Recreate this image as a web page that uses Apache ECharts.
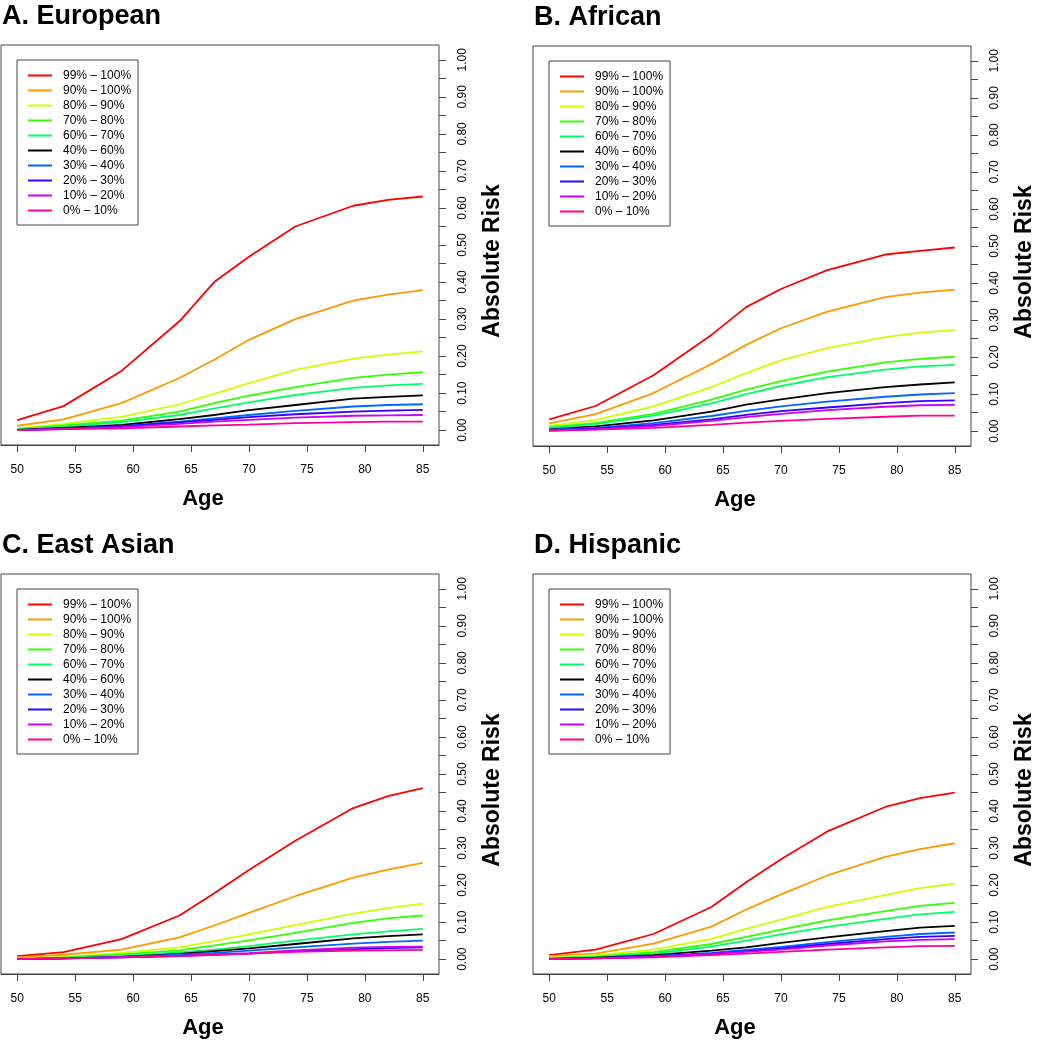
<!DOCTYPE html>
<html>
<head>
<meta charset="utf-8">
<title>Absolute risk by PRS percentile</title>
<script src="https://cdn.jsdelivr.net/npm/echarts@6/dist/echarts.min.js"></script>
<style>
  html, body { margin: 0; padding: 0; background: #fff; }
  #chart { width: 1037px; height: 1050px; }
</style>
</head>
<body>
<div id="chart"></div>
<script>
const ages = [50, 54, 59, 64, 67, 70, 74, 79, 82, 85]

const bands = ['99% – 100%', '90% – 100%', '80% – 90%', '70% – 80%', '60% – 70%',
  '40% – 60%', '30% – 40%', '20% – 30%', '10% – 20%', '0% – 10%']

const xTicks = [50, 55, 60, 65, 70, 75, 80, 85]
const yTicks = [0, 0.05, 0.1, 0.15, 0.2, 0.25, 0.3, 0.35, 0.4, 0.45, 0.5,
  0.55, 0.6, 0.65, 0.7, 0.75, 0.8, 0.85, 0.9, 0.95, 1]
const yLabels = [0, 0.1, 0.2, 0.3, 0.4, 0.5, 0.6, 0.7, 0.8, 0.9, 1]

// one row per band, same order as bands
const european = [
  [0.027, 0.065, 0.160, 0.294, 0.400, 0.468, 0.550, 0.606, 0.622, 0.631],
  [0.012, 0.029, 0.073, 0.141, 0.190, 0.244, 0.300, 0.350, 0.366, 0.378],
  [0.005, 0.017, 0.036, 0.070, 0.098, 0.127, 0.163, 0.193, 0.204, 0.213],
  [0.003, 0.013, 0.026, 0.050, 0.073, 0.093, 0.116, 0.141, 0.150, 0.157],
  [0.002, 0.010, 0.022, 0.041, 0.059, 0.075, 0.095, 0.114, 0.121, 0.125],
  [0.001, 0.006, 0.014, 0.030, 0.041, 0.054, 0.068, 0.085, 0.090, 0.094],
  [0.000, 0.004, 0.011, 0.023, 0.032, 0.041, 0.052, 0.064, 0.068, 0.070],
  [0.000, 0.004, 0.010, 0.021, 0.028, 0.035, 0.043, 0.050, 0.053, 0.055],
  [0.000, 0.003, 0.008, 0.017, 0.023, 0.028, 0.034, 0.039, 0.040, 0.041],
  [0.000, 0.003, 0.005, 0.010, 0.013, 0.015, 0.019, 0.022, 0.023, 0.023]
]

const african = [
  [0.032, 0.068, 0.151, 0.260, 0.335, 0.384, 0.435, 0.477, 0.487, 0.496],
  [0.021, 0.046, 0.103, 0.181, 0.233, 0.278, 0.323, 0.362, 0.374, 0.382],
  [0.014, 0.030, 0.067, 0.119, 0.157, 0.191, 0.224, 0.254, 0.266, 0.273],
  [0.011, 0.022, 0.047, 0.085, 0.112, 0.135, 0.161, 0.186, 0.195, 0.201],
  [0.009, 0.019, 0.042, 0.075, 0.100, 0.122, 0.146, 0.166, 0.175, 0.179],
  [0.005, 0.013, 0.029, 0.053, 0.072, 0.086, 0.103, 0.119, 0.126, 0.132],
  [0.004, 0.009, 0.022, 0.041, 0.055, 0.067, 0.080, 0.093, 0.099, 0.103],
  [0.003, 0.007, 0.017, 0.032, 0.044, 0.054, 0.064, 0.076, 0.081, 0.083],
  [0.002, 0.005, 0.014, 0.028, 0.038, 0.047, 0.057, 0.066, 0.070, 0.071],
  [0.001, 0.004, 0.009, 0.017, 0.023, 0.028, 0.033, 0.039, 0.042, 0.042]
]

const eastAsian = [
  [0.008, 0.019, 0.054, 0.118, 0.178, 0.241, 0.320, 0.408, 0.440, 0.462],
  [0.005, 0.012, 0.026, 0.059, 0.091, 0.125, 0.170, 0.220, 0.242, 0.260],
  [0.002, 0.006, 0.017, 0.032, 0.049, 0.067, 0.092, 0.123, 0.138, 0.150],
  [0.001, 0.005, 0.013, 0.024, 0.037, 0.051, 0.071, 0.098, 0.110, 0.118],
  [0.000, 0.003, 0.009, 0.018, 0.026, 0.035, 0.050, 0.067, 0.075, 0.082],
  [0.000, 0.002, 0.006, 0.014, 0.022, 0.029, 0.041, 0.056, 0.062, 0.067],
  [0.000, 0.002, 0.006, 0.012, 0.017, 0.023, 0.032, 0.042, 0.047, 0.050],
  [0.000, 0.002, 0.005, 0.009, 0.012, 0.015, 0.022, 0.027, 0.030, 0.032],
  [0.000, 0.002, 0.005, 0.009, 0.013, 0.016, 0.024, 0.031, 0.033, 0.034],
  [0.000, 0.002, 0.005, 0.008, 0.012, 0.015, 0.020, 0.023, 0.024, 0.025]
]

const hispanic = [
  [0.011, 0.026, 0.068, 0.141, 0.208, 0.270, 0.345, 0.411, 0.435, 0.450],
  [0.008, 0.015, 0.042, 0.088, 0.134, 0.175, 0.226, 0.276, 0.297, 0.313],
  [0.005, 0.011, 0.026, 0.055, 0.082, 0.107, 0.141, 0.173, 0.192, 0.204],
  [0.003, 0.007, 0.019, 0.041, 0.060, 0.080, 0.105, 0.130, 0.144, 0.152],
  [0.002, 0.006, 0.015, 0.034, 0.050, 0.067, 0.087, 0.109, 0.121, 0.128],
  [0.001, 0.004, 0.011, 0.023, 0.032, 0.044, 0.059, 0.076, 0.085, 0.090],
  [0.000, 0.003, 0.008, 0.017, 0.025, 0.033, 0.046, 0.060, 0.068, 0.072],
  [0.000, 0.003, 0.007, 0.015, 0.022, 0.029, 0.041, 0.054, 0.060, 0.063],
  [0.000, 0.002, 0.006, 0.014, 0.020, 0.026, 0.037, 0.048, 0.052, 0.054],
  [0.000, 0.002, 0.005, 0.011, 0.015, 0.020, 0.026, 0.032, 0.035, 0.036]
]

const panelTitles = ['A. European', 'B. African', 'C. East Asian', 'D. Hispanic']
const panelData = [european, african, eastAsian, hispanic]

// rainbow(10) from R, with the cyan slot swapped for black
const colors = ['#FF0000', '#FF9900', '#CCFF00', '#33FF00', '#00FF66',
  '#000000', '#0066FF', '#3300FF', '#CC00FF', '#FF0099']

const font = "'Liberation Sans', Arial, Helvetica, sans-serif"

// box of each panel, in pixels
const boxes = [
  { left: 1, top: 45 },
  { left: 533, top: 46 },
  { left: 1, top: 574 },
  { left: 533, top: 574 }
]

const chart = echarts.init(document.getElementById('chart'))

const grid = boxes.map(b => ({
  left: b.left, top: b.top, width: 438, height: 400,
  show: true, borderColor: '#444', borderWidth: 1, backgroundColor: 'transparent'
}))

const title = boxes.map((b, i) => ({
  text: panelTitles[i],
  left: b.left + 1,
  top: b.top - 42,
  padding: 0,
  textStyle: { fontFamily: font, fontSize: 27, fontWeight: 'bold', color: '#000' }
}))

const xAxis = boxes.map((b, i) => ({
  gridIndex: i,
  type: 'value',
  position: 'bottom',
  min: 48.6,
  max: 86.4,
  axisLine: { show: true, onZero: false, lineStyle: { color: '#444', width: 1 } },
  splitLine: { show: false },
  axisTick: { show: true, inside: false, length: 7, customValues: xTicks, lineStyle: { color: '#444', width: 1 } },
  axisLabel: { customValues: xTicks, margin: 19, fontFamily: font, fontSize: 12, color: '#000' },
  name: 'Age',
  nameLocation: 'middle',
  nameGap: 43,
  nameTextStyle: { fontFamily: font, fontSize: 22, fontWeight: 'bold', color: '#000', padding: [0, 34, 0, 0] }
}))

const yAxis = boxes.map((b, i) => ({
  gridIndex: i,
  type: 'value',
  position: 'right',
  min: -0.04,
  max: 1.04,
  axisLine: { show: false, onZero: false },
  splitLine: { show: false },
  axisTick: { show: true, inside: false, length: 7, customValues: yTicks, lineStyle: { color: '#444', width: 1 } },
  axisLabel: {
    customValues: yLabels, rotate: 90, margin: 18,
    formatter: v => v.toFixed(2),
    fontFamily: font, fontSize: 12, color: '#000'
  },
  name: 'Absolute Risk',
  nameLocation: 'middle',
  nameRotate: 90,
  nameGap: 42,
  nameTextStyle: { fontFamily: font, fontSize: 23, fontWeight: 'bold', color: '#000', padding: [0, 32, 0, 0] }
}))

const legend = boxes.map(b => ({
  orient: 'vertical',
  left: b.left + 16,
  top: b.top + 15,
  data: bands,
  icon: 'rect',
  itemWidth: 24,
  itemHeight: 2,
  itemGap: 0,
  padding: [8, 7, 7, 11],
  borderColor: '#444',
  borderWidth: 1,
  selectedMode: false,
  textStyle: { fontFamily: font, fontSize: 12, lineHeight: 15, color: '#000', padding: [0, 0, 0, 6] }
}))

const series = []
panelData.forEach((rows, p) => {
  rows.forEach((vals, k) => {
    series.push({
      type: 'line',
      name: bands[k],
      xAxisIndex: p,
      yAxisIndex: p,
      data: ages.map((a, j) => [a, vals[j]]),
      symbol: 'none',
      showSymbol: false,
      lineStyle: { color: colors[k], width: 1.8 },
      itemStyle: { color: colors[k] },
      silent: true
    })
  })
})

chart.setOption({
  animation: false,
  backgroundColor: '#fff',
  title,
  grid,
  xAxis,
  yAxis,
  legend,
  series
})

window.addEventListener('resize', () => chart.resize())
</script>
</body>
</html>
